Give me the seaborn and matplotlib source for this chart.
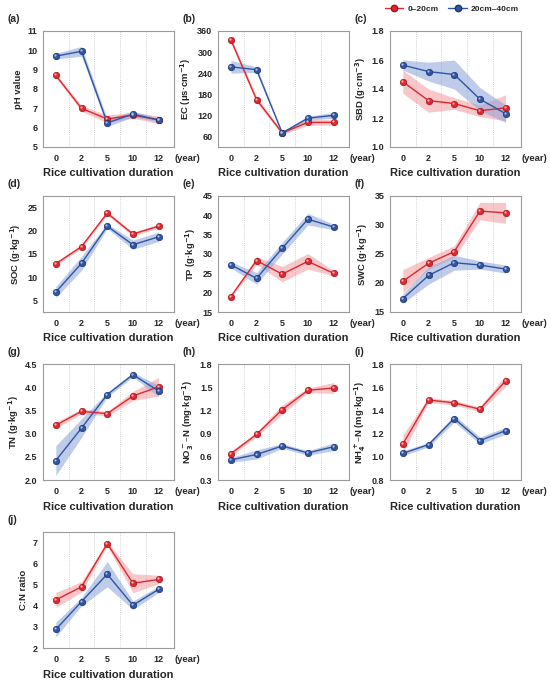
import numpy as np
import pandas as pd
import seaborn as sns
import matplotlib.pyplot as plt
from matplotlib.lines import Line2D
from matplotlib.transforms import offset_copy

sns.set_style("white")
plt.rcParams["font.family"] = ["Liberation Sans", "DejaVu Sans"]
plt.rcParams["font.weight"] = "bold"
plt.rcParams["mathtext.default"] = "bf"

years = ["0", "2", "5", "10", "12"]

# 0-20cm (top) and 20-40cm (sub) means with band half-widths
ph_top = [8.7, 7.0, 6.45, 6.65, 6.4]
ph_top_err = [0.1, 0.15, 0.2, 0.15, 0.2]
ph_sub = [9.7, 9.95, 6.25, 6.7, 6.4]
ph_sub_err = [0.15, 0.25, 0.2, 0.15, 0.1]

ec_top = [335, 165, 70, 100, 100]
ec_top_err = [8, 8, 5, 8, 8]
ec_sub = [258, 250, 70, 112, 120]
ec_sub_err = [18, 8, 4, 6, 8]

sbd_top = [1.45, 1.32, 1.30, 1.25, 1.27]
sbd_top_err = [0.08, 0.08, 0.04, 0.04, 0.09]
sbd_sub = [1.565, 1.52, 1.50, 1.33, 1.23]
sbd_sub_err = [0.035, 0.065, 0.10, 0.08, 0.06]

soc_top = [12.9, 16.6, 23.8, 19.3, 21.0]
soc_top_err = [0.4, 0.4, 0.4, 0.4, 0.4]
soc_sub = [6.8, 13.0, 21.0, 17.0, 18.7]
soc_sub_err = [1.2, 1.5, 0.5, 1.0, 1.0]

tp_top = [19.0, 28.3, 24.8, 28.1, 25.0]
tp_top_err = [0.3, 1.0, 2.0, 2.0, 0.7]
tp_sub = [27.2, 23.7, 31.5, 39.0, 37.0]
tp_sub_err = [0.8, 1.5, 1.5, 1.5, 0.7]

swc_top = [20.3, 23.4, 25.4, 32.4, 32.1]
swc_top_err = [2.0, 1.0, 1.0, 1.5, 1.8]
swc_sub = [17.3, 21.3, 23.5, 23.1, 22.4]
swc_sub_err = [0.8, 1.5, 1.3, 0.7, 0.7]

tn_top = [3.18, 3.48, 3.43, 3.81, 4.01]
tn_top_err = [0.07, 0.05, 0.05, 0.1, 0.2]
tn_sub = [2.42, 3.12, 3.84, 4.27, 3.92]
tn_sub_err = [0.32, 0.2, 0.05, 0.05, 0.12]

no3_top = [0.64, 0.89, 1.21, 1.46, 1.49]
no3_top_err = [0.03, 0.03, 0.06, 0.03, 0.07]
no3_sub = [0.56, 0.63, 0.74, 0.65, 0.73]
no3_sub_err = [0.03, 0.06, 0.03, 0.03, 0.05]

nh4_top = [1.11, 1.49, 1.465, 1.41, 1.655]
nh4_top_err = [0.08, 0.02, 0.02, 0.02, 0.05]
nh4_sub = [1.03, 1.105, 1.33, 1.14, 1.225]
nh4_sub_err = [0.02, 0.02, 0.03, 0.03, 0.03]

cn_top = [4.28, 4.9, 6.95, 5.07, 5.25]
cn_top_err = [0.35, 0.25, 0.1, 0.45, 0.2]
cn_sub = [2.88, 4.2, 5.5, 4.03, 4.78]
cn_sub_err = [0.35, 0.2, 0.6, 0.2, 0.15]

panels = [
    ("(a)", "pH value", (5, 11), np.arange(5, 12, 1), ph_top, ph_top_err, ph_sub, ph_sub_err, "{:.0f}"),
    ("(b)", "EC (μs·cm$^{-1}$)", (30, 360), np.arange(60, 361, 60), ec_top, ec_top_err, ec_sub, ec_sub_err, "{:.0f}"),
    ("(c)", "SBD (g·cm$^{-3}$)", (1.0, 1.8), np.arange(1.0, 1.81, 0.2), sbd_top, sbd_top_err, sbd_sub, sbd_sub_err, "{:.1f}"),
    ("(d)", "SOC (g·kg$^{-1}$)", (2.5, 27.5), np.arange(5, 26, 5), soc_top, soc_top_err, soc_sub, soc_sub_err, "{:.0f}"),
    ("(e)", "TP (g·kg$^{-1}$)", (15, 45), np.arange(15, 46, 5), tp_top, tp_top_err, tp_sub, tp_sub_err, "{:.0f}"),
    ("(f)", "SWC (g·kg$^{-1}$)", (15, 35), np.arange(15, 36, 5), swc_top, swc_top_err, swc_sub, swc_sub_err, "{:.0f}"),
    ("(g)", "TN (g·kg$^{-1}$)", (2.0, 4.5), np.arange(2.0, 4.51, 0.5), tn_top, tn_top_err, tn_sub, tn_sub_err, "{:.1f}"),
    ("(h)", "NO$_3^-$–N (mg·kg$^{-1}$)", (0.3, 1.8), np.arange(0.3, 1.81, 0.3), no3_top, no3_top_err, no3_sub, no3_sub_err, "{:.1f}"),
    ("(i)", "NH$_4^+$–N (mg·kg$^{-1}$)", (0.8, 1.8), np.arange(0.8, 1.81, 0.2), nh4_top, nh4_top_err, nh4_sub, nh4_sub_err, "{:.1f}"),
    ("(j)", "C:N ratio", (2, 7.5), np.arange(2, 8, 1), cn_top, cn_top_err, cn_sub, cn_sub_err, "{:.0f}"),
]

red = "#e0262e"
red_edge = "#a3141a"
red_band = "#f39aa0"
red_hi = "#ffb4b8"
blue = "#2f55a4"
blue_edge = "#1b336e"
blue_band = "#8aa3d8"
blue_hi = "#a9bde8"

W, H = 550, 680
fig = plt.figure(figsize=(5.5, 6.8), dpi=100)

col_left = [43, 218, 390]
row_top = [31, 196, 364, 532]
aw, ah = 131, 116

pos = np.arange(len(years))

for i, (tag, ylab, ylim, yt, top, top_err, sub, sub_err, fmt) in enumerate(panels):
    r, c = divmod(i, 3)
    ax = fig.add_axes([col_left[c] / W, 1 - (row_top[r] + ah) / H, aw / W, ah / H])

    top = np.array(top)
    sub = np.array(sub)
    ax.fill_between(pos, top - np.array(top_err), top + np.array(top_err),
                    color=red_band, alpha=0.55, lw=0, zorder=1)
    ax.fill_between(pos, sub - np.array(sub_err), sub + np.array(sub_err),
                    color=blue_band, alpha=0.55, lw=0, zorder=1)

    df = pd.DataFrame({"pos": np.concatenate([pos, pos]),
                       "value": np.concatenate([top, sub]),
                       "layer": ["0–20cm"] * 5 + ["20cm–40cm"] * 5})
    sns.lineplot(data=df[df.layer == "0–20cm"], x="pos", y="value", color=red,
                 marker="o", markersize=4.6, markeredgecolor=red_edge, markeredgewidth=0.5,
                 linewidth=1.0, ax=ax, zorder=3)
    sns.lineplot(data=df[df.layer == "20cm–40cm"], x="pos", y="value", color=blue,
                 marker="o", markersize=4.6, markeredgecolor=blue_edge, markeredgewidth=0.5,
                 linewidth=1.0, ax=ax, zorder=4)
    # small highlight for the sphere look
    hi = offset_copy(ax.transData, fig=fig, x=-0.7, y=0.7, units="points")
    ax.plot(pos, top, ls="none", marker="o", markersize=1.6, color=red_hi, mew=0,
            transform=hi, zorder=5)
    ax.plot(pos, sub, ls="none", marker="o", markersize=1.6, color=blue_hi, mew=0,
            transform=hi, zorder=5)

    for xv in [0.5, 1.5, 2.5, 3.5]:
        ax.axvline(xv, color="#c4c4c4", ls=(0, (1, 1.5)), lw=0.6, zorder=0)

    ax.set_xlim(-0.5, 4.6)
    ax.set_ylim(*ylim)
    ax.set_xticks(pos)
    ax.set_xticklabels(years)
    ax.set_yticks(yt)
    ax.set_yticklabels([fmt.format(v) for v in yt])
    ax.tick_params(axis="both", labelsize=6.5, length=2, width=0.6, color="#888888", pad=2)
    ax.tick_params(axis="x", pad=3)
    for lab in ax.get_xticklabels() + ax.get_yticklabels():
        lab.set_fontweight("bold")
    for sp in ax.spines.values():
        sp.set_visible(True)
        sp.set_color("#9a9a9a")
        sp.set_linewidth(0.8)

    ax.set_ylabel(ylab, fontsize=6.8, fontweight="bold", labelpad=3)
    ax.set_xlabel("Rice cultivation duration", fontsize=8, fontweight="bold", labelpad=4)
    ax.annotate("(year)", xy=(1, 0), xycoords="axes fraction", xytext=(0, -5),
                textcoords="offset points", ha="left", va="top",
                fontsize=6.8, fontweight="bold")
    ax.text(-0.27, 1.06, tag, transform=ax.transAxes, fontsize=7.5,
            fontweight="bold", ha="left", va="bottom")

handles = [
    Line2D([], [], color=red, marker="o", markersize=4.6, markeredgecolor=red_edge, lw=1.0, label="0–20cm"),
    Line2D([], [], color=blue, marker="o", markersize=4.6, markeredgecolor=blue_edge, lw=1.0, label="20cm–40cm"),
]
fig.legend(handles=handles, loc="center", bbox_to_anchor=(452 / W, 1 - 9 / H), ncol=2,
           frameon=False, fontsize=6, handlelength=2.2, columnspacing=1.2, handletextpad=0.5)

fig.savefig("out.png", dpi=100)
